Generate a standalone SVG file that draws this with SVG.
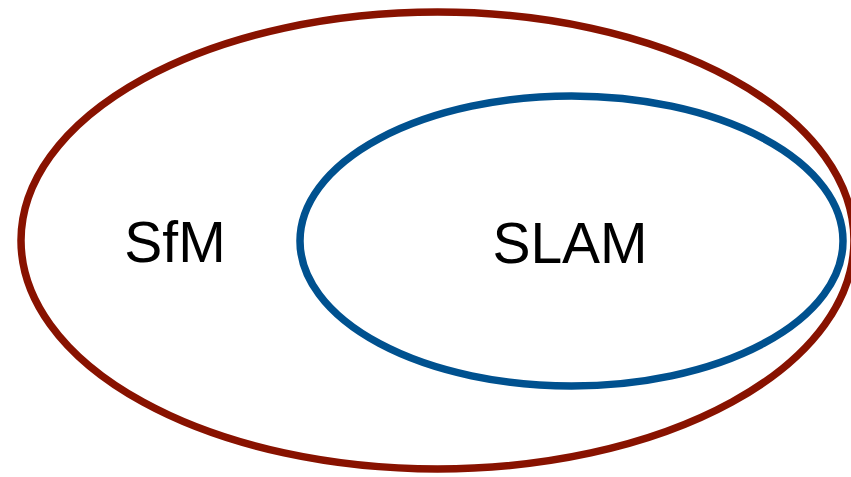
<svg xmlns="http://www.w3.org/2000/svg" width="851" height="477" viewBox="0 0 851 477">
<style>
.set{fill:none;stroke-width:7.5}
.lbl{font-family:"Liberation Sans",Arial,sans-serif;font-size:57px;fill:#000;text-anchor:middle}
</style>
<rect width="851" height="477" fill="#fff"/>
<g id="sfm">
<ellipse class="set" cx="437.5" cy="240.5" rx="416.5" ry="228.5" stroke="#881200"/>
<text class="lbl" x="175" y="262">SfM</text>
</g>
<g id="slam">
<ellipse class="set" cx="571.5" cy="241" rx="271.5" ry="145" stroke="#00518F"/>
<text class="lbl" x="570" y="263">SLAM</text>
</g>
<g id="connectors"/>
</svg>
